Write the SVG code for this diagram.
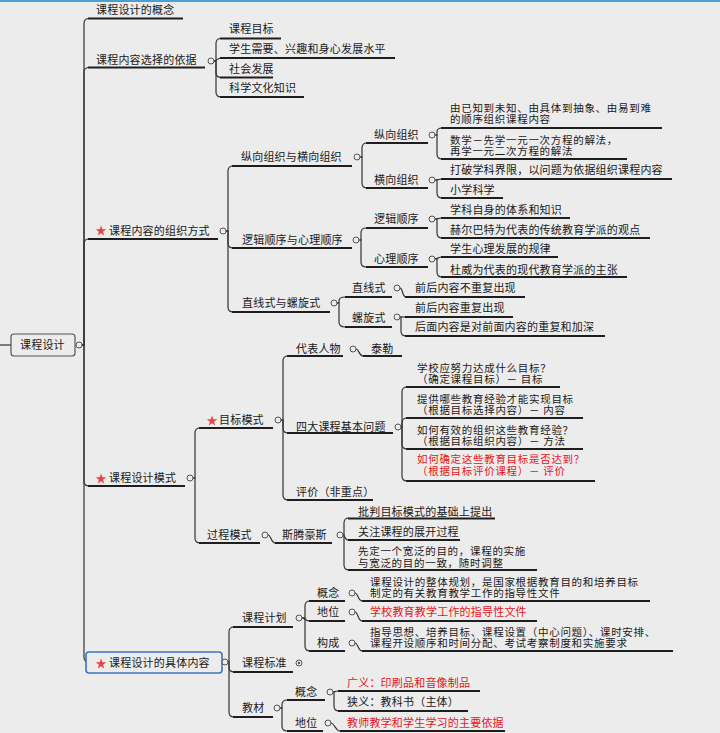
<svg xmlns="http://www.w3.org/2000/svg" width="720" height="733" viewBox="0 0 720 733">
<style>
.t{font-family:"Noto Sans CJK SC","Noto Sans",sans-serif;font-size:11px;fill:#1a1a1a;letter-spacing:0.2px}
.m{font-size:10.5px;letter-spacing:0.7px}
.r{fill:#e8141b}
.u{stroke:#1e1e1e;stroke-width:2;fill:none}
.b{stroke:#333;stroke-width:1.2;fill:none}
.c{fill:#ececec;stroke:#555;stroke-width:1}
.s{fill:#e84545}
</style>
<defs>
<path id="star" d="M0,-5.5 L1.3,-1.8 L5.2,-1.7 L2.1,0.7 L3.2,4.5 L0,2.2 L-3.2,4.5 L-2.1,0.7 L-5.2,-1.7 L-1.3,-1.8 Z"/>
</defs>
<rect width="720" height="733" fill="#ececec"/>
<rect width="720" height="2" fill="#4aa0d5"/>
<line x1="0" y1="345" x2="11" y2="345" class="b"/>

<g id="connectors" class="b">
<path d="M82 345 H84 V23.5 Q84 18.5 89 18.5"/>
<path d="M82 345 H84 V72.5 Q84 67.5 89 67.5"/>
<path d="M82 345 H84 V244 Q84 239 89 239"/>
<path d="M82 345 H84 V481 Q84 486 89 486"/>
<path d="M82 345 H84 V657 Q84 662 89 662"/>
<path d="M214 61 H216 V43.5 Q216 38.5 221 38.5"/>
<path d="M214 61 C217 61 217 58 221 58"/>
<path d="M214 61 H216 V72.5 Q216 77.5 221 77.5"/>
<path d="M214 61 H216 V92 Q216 97 221 97"/>
<path d="M226 231 H228 V171 Q228 166 233 166"/>
<path d="M226 231 H228 V243 Q228 248 233 248"/>
<path d="M226 231 H228 V307 Q228 312 233 312"/>
<path d="M360 157 H362 V148 Q362 143 367 143"/>
<path d="M360 157 H362 V183 Q362 188 367 188"/>
<path d="M435 135 H437 V132 Q437 128 442 128"/>
<path d="M435 135 H437 V154 Q437 159 442 159"/>
<path d="M435 180 C438 180 438 179 442 179"/>
<path d="M435 180 H437 V193 Q437 198 442 198"/>
<path d="M359 240 H361 V233 Q361 228 366 228"/>
<path d="M359 240 H361 V262 Q361 267 366 267"/>
<path d="M435 219 C438 219 438 218 442 218"/>
<path d="M435 219 H437 V233 Q437 238 442 238"/>
<path d="M435 259 C438 259 438 257 442 257"/>
<path d="M435 259 H437 V272 Q437 277 442 277"/>
<path d="M337 303 H339 V301 Q339 297 345 297"/>
<path d="M337 303 H339 V322 Q339 327 345 327"/>
<path d="M400 288 C403 288 402 297 406 297"/>
<path d="M400 317 L406 317"/>
<path d="M400 317 H401 V331 Q401 336 406 336"/>
<path d="M193 478 H195 V433 Q195 428 200 428"/>
<path d="M193 478 H195 V538 Q195 543 200 543"/>
<path d="M281 420 H283 V361 Q283 356 288 356"/>
<path d="M281 420 H283 V428 Q283 433 288 433"/>
<path d="M281 420 H283 V495 Q283 500 288 500"/>
<path d="M356 349 C359 349 359 356 363 356"/>
<path d="M401 427 H402 V392 Q402 387 407 387"/>
<path d="M401 427 H402 V423 Q402 418 407 418"/>
<path d="M401 427 H402 V444 Q402 449 407 449"/>
<path d="M401 427 H402 V476 Q402 481 407 481"/>
<path d="M268 535 C271 535 271 543 275 543"/>
<path d="M343 535 H344 V523 Q344 518 349 518"/>
<path d="M343 535 C345 535 344 540 349 540"/>
<path d="M343 535 H344 V565 Q344 570 349 570"/>
<path d="M228 662 H229 V632 Q229 627 234 627"/>
<path d="M228 662 H229 V667 Q229 672 234 672"/>
<path d="M228 662 H229 V712 Q229 717 234 717"/>
<path d="M302 618 H305 V606 Q305 601 310 601"/>
<path d="M302 618 C305 618 305 621 310 621"/>
<path d="M302 618 H305 V646 Q305 651 310 651"/>
<path d="M355 593 C358 593 358 601 362 601"/>
<path d="M355 612 C358 612 358 621 362 621"/>
<path d="M355 643 C358 643 358 651 362 651"/>
<path d="M280 708 H282 V705 Q282 700 287 700"/>
<path d="M280 708 H282 V726 Q282 731 287 731"/>
<path d="M333 692 C335 692 335 691 338 691"/>
<path d="M333 692 H334 V706 Q334 711 339 711"/>
<path d="M331 723 C334 723 336 731 340 731"/>
</g>

<g id="root">
<rect x="11" y="334" width="64" height="22" rx="3" fill="#ececec" stroke="#555" stroke-width="1.2"/>
<text class="t" x="20" y="349">课程设计</text>
<circle class="c" cx="79" cy="345" r="3"/>
</g>

<g id="n-concept">
<text class="t" x="96" y="14">课程设计的概念</text>
<line class="u" x1="88" y1="18.5" x2="183" y2="18.5"/>
</g>

<g id="n-basis">
<text class="t" x="96" y="64">课程内容选择的依据</text>
<line class="u" x1="88" y1="67.5" x2="205" y2="67.5"/>
<circle class="c" cx="211" cy="61" r="3"/>
</g>
<g id="n-basis-1"><text class="t" x="229" y="33">课程目标</text><line class="u" x1="220" y1="38.5" x2="281" y2="38.5"/></g>
<g id="n-basis-2"><text class="t" x="229" y="53">学生需要、兴趣和身心发展水平</text><line class="u" x1="220" y1="58" x2="395" y2="58"/></g>
<g id="n-basis-3"><text class="t" x="229" y="73">社会发展</text><line class="u" x1="220" y1="77.5" x2="273" y2="77.5"/></g>
<g id="n-basis-4"><text class="t" x="229" y="92">科学文化知识</text><line class="u" x1="220" y1="97" x2="304" y2="97"/></g>

<g id="n-org">
<use href="#star" class="s" x="101" y="231"/>
<text class="t" x="109" y="235">课程内容的组织方式</text>
<line class="u" x1="88" y1="239" x2="218" y2="239"/>
<circle class="c" cx="223" cy="231" r="3"/>
</g>
<g id="n-vh">
<text class="t" x="241" y="161">纵向组织与横向组织</text>
<line class="u" x1="232" y1="166" x2="352" y2="166"/>
<circle class="c" cx="357" cy="157" r="3"/>
</g>
<g id="n-v">
<text class="t" x="374" y="139">纵向组织</text>
<line class="u" x1="366" y1="143" x2="428" y2="143"/>
<circle class="c" cx="432" cy="135" r="3"/>
</g>
<g id="n-v-1">
<text class="t m" x="450" y="111.5">由已知到未知、由具体到抽象、由易到难<tspan x="450" dy="11.5">的顺序组织课程内容</tspan></text>
<line class="u" x1="441" y1="128" x2="662" y2="128"/>
</g>
<g id="n-v-2">
<text class="t m" x="450" y="143.5">数学－先学一元一次方程的解法，<tspan x="450" dy="11.5">再学一元二次方程的解法</tspan></text>
<line class="u" x1="441" y1="159" x2="627" y2="159"/>
</g>
<g id="n-h">
<text class="t" x="374" y="184">横向组织</text>
<line class="u" x1="366" y1="188" x2="428" y2="188"/>
<circle class="c" cx="432" cy="180" r="3"/>
</g>
<g id="n-h-1"><text class="t" x="450" y="174">打破学科界限，以问题为依据组织课程内容</text><line class="u" x1="441" y1="179" x2="672" y2="179"/></g>
<g id="n-h-2"><text class="t" x="450" y="194">小学科学</text><line class="u" x1="441" y1="198" x2="503" y2="198"/></g>

<g id="n-lp">
<text class="t" x="242" y="244">逻辑顺序与心理顺序</text>
<line class="u" x1="232" y1="248" x2="352" y2="248"/>
<circle class="c" cx="356" cy="240" r="3"/>
</g>
<g id="n-l">
<text class="t" x="374" y="223">逻辑顺序</text>
<line class="u" x1="366" y1="228" x2="428" y2="228"/>
<circle class="c" cx="432" cy="219" r="3"/>
</g>
<g id="n-l-1"><text class="t" x="450" y="214">学科自身的体系和知识</text><line class="u" x1="441" y1="218" x2="570" y2="218"/></g>
<g id="n-l-2"><text class="t" x="450" y="234">赫尔巴特为代表的传统教育学派的观点</text><line class="u" x1="441" y1="238" x2="650" y2="238"/></g>
<g id="n-p">
<text class="t" x="374" y="263">心理顺序</text>
<line class="u" x1="366" y1="267" x2="428" y2="267"/>
<circle class="c" cx="432" cy="259" r="3"/>
</g>
<g id="n-p-1"><text class="t" x="450" y="253">学生心理发展的规律</text><line class="u" x1="441" y1="257" x2="558" y2="257"/></g>
<g id="n-p-2"><text class="t" x="450" y="274">杜威为代表的现代教育学派的主张</text><line class="u" x1="441" y1="277" x2="627" y2="277"/></g>

<g id="n-ls">
<text class="t" x="242" y="307">直线式与螺旋式</text>
<line class="u" x1="232" y1="312" x2="330" y2="312"/>
<circle class="c" cx="334" cy="303" r="3"/>
</g>
<g id="n-line">
<text class="t" x="352" y="292">直线式</text>
<line class="u" x1="345" y1="297" x2="392" y2="297"/>
<circle class="c" cx="397" cy="288" r="3"/>
</g>
<g id="n-line-1"><text class="t" x="415" y="292">前后内容不重复出现</text><line class="u" x1="405" y1="297" x2="525" y2="297"/></g>
<g id="n-spiral">
<text class="t" x="352" y="322">螺旋式</text>
<line class="u" x1="345" y1="327" x2="392" y2="327"/>
<circle class="c" cx="397" cy="317" r="3"/>
</g>
<g id="n-spiral-1"><text class="t" x="415" y="312">前后内容重复出现</text><line class="u" x1="405" y1="317" x2="513" y2="317"/></g>
<g id="n-spiral-2"><text class="t" x="415" y="331">后面内容是对前面内容的重复和加深</text><line class="u" x1="405" y1="336" x2="605" y2="336"/></g>

<g id="n-model">
<use href="#star" class="s" x="101" y="479"/>
<text class="t" x="109" y="482">课程设计模式</text>
<line class="u" x1="88" y1="486" x2="185" y2="486"/>
<circle class="c" cx="190" cy="478" r="3"/>
</g>
<g id="n-goal">
<use href="#star" class="s" x="212" y="421"/>
<text class="t" x="219" y="424">目标模式</text>
<line class="u" x1="199" y1="428" x2="273" y2="428"/>
<circle class="c" cx="278" cy="420" r="3"/>
</g>
<g id="n-rep">
<text class="t" x="296" y="353">代表人物</text>
<line class="u" x1="287" y1="356" x2="343" y2="356"/>
<circle class="c" cx="353" cy="349" r="3"/>
</g>
<g id="n-tyler"><text class="t" x="371" y="353">泰勒</text><line class="u" x1="363" y1="356" x2="402" y2="356"/></g>
<g id="n-four">
<text class="t" x="296" y="431">四大课程基本问题</text>
<line class="u" x1="287" y1="433" x2="393" y2="433"/>
<circle class="c" cx="398" cy="427" r="3"/>
</g>
<g id="n-four-1">
<text class="t m" x="417" y="371.5">学校应努力达成什么目标？<tspan x="417" dy="11.5">（确定课程目标）－ 目标</tspan></text>
<line class="u" x1="406" y1="387" x2="560" y2="387"/>
</g>
<g id="n-four-2">
<text class="t m" x="417" y="402.5">提供哪些教育经验才能实现目标<tspan x="417" dy="11.5">（根据目标选择内容）－ 内容</tspan></text>
<line class="u" x1="406" y1="418" x2="583" y2="418"/>
</g>
<g id="n-four-3">
<text class="t m" x="417" y="433.5">如何有效的组织这些教育经验？<tspan x="417" dy="11.5">（根据目标组织内容）－ 方法</tspan></text>
<line class="u" x1="406" y1="449" x2="583" y2="449"/>
</g>
<g id="n-four-4">
<text class="t m r" x="417" y="463">如何确定这些教育目标是否达到？<tspan x="417" dy="11.5">（根据目标评价课程）－ 评价</tspan></text>
<line class="u" x1="406" y1="481" x2="595" y2="481"/>
</g>
<g id="n-eval"><text class="t" x="296" y="496">评价（非重点）</text><line class="u" x1="287" y1="500" x2="373" y2="500"/></g>

<g id="n-process">
<text class="t" x="207" y="539">过程模式</text>
<line class="u" x1="199" y1="543" x2="260" y2="543"/>
<circle class="c" cx="265" cy="535" r="3"/>
</g>
<g id="n-sten">
<text class="t" x="282" y="539">斯腾豪斯</text>
<line class="u" x1="275" y1="543" x2="332" y2="543"/>
<circle class="c" cx="340" cy="535" r="3"/>
</g>
<g id="n-sten-1"><text class="t" x="358" y="516">批判目标模式的基础上提出</text><line class="u" x1="348" y1="518.5" x2="495" y2="518.5"/></g>
<g id="n-sten-2"><text class="t" x="358" y="536">关注课程的展开过程</text><line class="u" x1="348" y1="540" x2="460" y2="540"/></g>
<g id="n-sten-3">
<text class="t m" x="358" y="555">先定一个宽泛的目的，课程的实施<tspan x="358" dy="11.5">与宽泛的目的一致，随时调整</tspan></text>
<line class="u" x1="348" y1="570" x2="537" y2="570"/>
</g>

<g id="n-content">
<rect x="86" y="652" width="136" height="21" rx="3" fill="#ececec" stroke="#3f72c4" stroke-width="1.6"/>
<use href="#star" class="s" x="101" y="664"/>
<text class="t" x="109" y="667">课程设计的具体内容</text>
<circle class="c" cx="225" cy="662" r="3"/>
</g>
<g id="n-plan">
<text class="t" x="242" y="622">课程计划</text>
<line class="u" x1="233" y1="627" x2="293" y2="627"/>
<circle class="c" cx="299" cy="618" r="3"/>
</g>
<g id="n-plan-concept">
<text class="t" x="317" y="597">概念</text>
<line class="u" x1="309" y1="601" x2="345" y2="601"/>
<circle class="c" cx="352" cy="593" r="3"/>
</g>
<g id="n-plan-concept-1">
<text class="t m" x="370" y="585.5">课程设计的整体规划，是国家根据教育目的和培养目标<tspan x="370" dy="11.5">制定的有关教育教学工作的指导性文件</tspan></text>
<line class="u" x1="362" y1="601" x2="650" y2="601"/>
</g>
<g id="n-plan-status">
<text class="t" x="317" y="616">地位</text>
<line class="u" x1="309" y1="621" x2="345" y2="621"/>
<circle class="c" cx="352" cy="612" r="3"/>
</g>
<g id="n-plan-status-1"><text class="t r" x="370" y="616">学校教育教学工作的指导性文件</text><line class="u" x1="362" y1="621" x2="537" y2="621"/></g>
<g id="n-plan-comp">
<text class="t" x="317" y="647">构成</text>
<line class="u" x1="309" y1="651" x2="345" y2="651"/>
<circle class="c" cx="352" cy="643" r="3"/>
</g>
<g id="n-plan-comp-1">
<text class="t m" x="370" y="635.5">指导思想、培养目标、课程设置（中心问题）、课时安排、<tspan x="370" dy="11.5">课程开设顺序和时间分配、考试考察制度和实施要求</tspan></text>
<line class="u" x1="362" y1="651" x2="673" y2="651"/>
</g>
<g id="n-std">
<text class="t" x="242" y="667">课程标准</text>
<line class="u" x1="233" y1="672" x2="293" y2="672"/>
<circle class="c" cx="299" cy="663" r="3"/>
<circle cx="299" cy="663" r="1.2" fill="#555"/>
</g>
<g id="n-text">
<text class="t" x="242" y="712">教材</text>
<line class="u" x1="233" y1="717" x2="273" y2="717"/>
<circle class="c" cx="277" cy="708" r="3"/>
</g>
<g id="n-text-concept">
<text class="t" x="295" y="696">概念</text>
<line class="u" x1="287" y1="700" x2="325" y2="700"/>
<circle class="c" cx="330" cy="692" r="3"/>
</g>
<g id="n-text-broad"><text class="t r" x="347" y="687">广义：印刷品和音像制品</text><line class="u" x1="338" y1="691" x2="480" y2="691"/></g>
<g id="n-text-narrow"><text class="t" x="347" y="706">狭义：教科书（主体）</text><line class="u" x1="338" y1="711" x2="468" y2="711"/></g>
<g id="n-text-status">
<text class="t" x="295" y="727">地位</text>
<line class="u" x1="287" y1="731" x2="323" y2="731"/>
<circle class="c" cx="328" cy="723" r="3"/>
</g>
<g id="n-text-status-1"><text class="t r" x="347" y="727">教师教学和学生学习的主要依据</text><line class="u" x1="340" y1="731" x2="505" y2="731"/></g>
</svg>
